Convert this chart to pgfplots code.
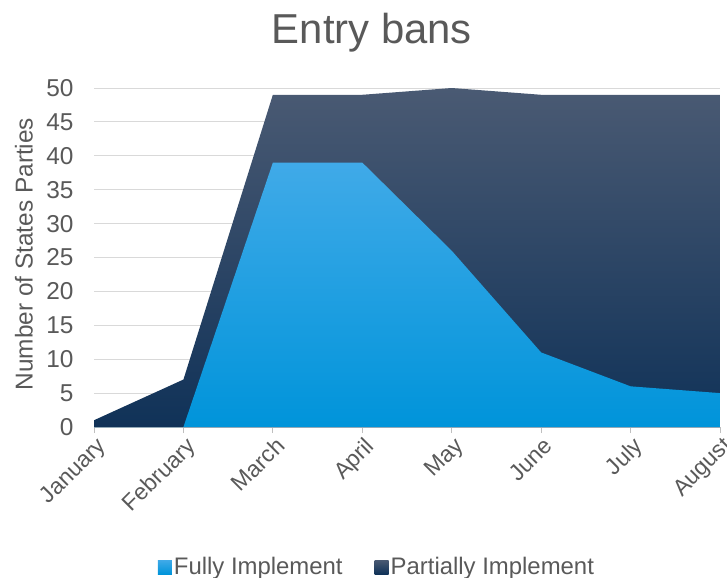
\documentclass[border=0pt]{standalone}
\usepackage{pgfplots}
\pgfplotsset{compat=1.18}
\usepackage{fontspec}
\setmainfont{Liberation Sans}
\definecolor{txt}{HTML}{595959}
\definecolor{gridc}{HTML}{D9D9D9}
\definecolor{axl}{HTML}{BFBFBF}
\definecolor{lighttop}{RGB}{64,170,232}
\definecolor{lightbot}{RGB}{0,148,218}
\definecolor{darktop}{RGB}{74,90,115}
\definecolor{darkbot}{RGB}{16,50,88}
\begin{document}
\begin{tikzpicture}[x=1bp,y=1bp]
\begin{axis}[
  at={(94bp,-427bp)}, anchor=south west,
  scale only axis, width=626bp, height=339bp,
  xmin=0, xmax=7, ymin=0, ymax=50,
  xtick={0,...,7},
  xticklabels={January,February,March,April,May,June,July,August},
  ytick={0,5,...,50},
  ymajorgrids, grid style={gridc, line width=1bp},
  axis lines*=left,
  y axis line style={draw=none},
  x axis line style={axl, line width=1.2bp},
  xtick style={axl, line width=1bp},
  ytick style={draw=none},
  major tick length=6bp, tick align=outside,
  /pgf/number format/assume math mode=true,
  x tick label style={rotate=45, anchor=north east, font=\fontsize{23}{23}\selectfont, text=txt, inner sep=1bp, yshift=-2bp},
  y tick label style={font=\fontsize{24.5}{24.5}\selectfont, text=txt, xshift=-11bp},
  ylabel={Number of States Parties},
  ylabel style={at={(axis description cs:-0.112,0.51)}, anchor=center, font=\fontsize{24.5}{24.5}\selectfont, text=txt},
  title={Entry bans},
  title style={at={(axis description cs:0.444,1.145)}, anchor=center, font=\fontsize{42}{42}\selectfont, text=txt},
  legend style={at={(axis description cs:0.452,-0.413)}, anchor=center, draw=none, fill=none,
    font=\fontsize{24}{24}\selectfont, text=txt, legend columns=2,
    /tikz/every even column/.append style={column sep=30bp}},
  legend image code/.code={\path[#1,draw=none] (0bp,-7bp) rectangle (14bp,7bp);},
]
\addplot[draw=none, shading=axis, top color=darktop, bottom color=darkbot, forget plot]
  coordinates {(0,1) (1,7) (2,49) (3,49) (4,50) (5,49) (6,49) (7,49)} \closedcycle;
\addplot[draw=none, shading=axis, top color=lighttop, bottom color=lightbot, forget plot]
  coordinates {(0,0) (1,0) (2,39) (3,39) (4,26) (5,11) (6,6) (7,5)} \closedcycle;
\addlegendimage{top color=lighttop, bottom color=lightbot}
\addlegendentry{Fully Implement}
\addlegendimage{top color=darktop, bottom color=darkbot}
\addlegendentry{Partially Implement}
\end{axis}
\pgfresetboundingbox
\path (0,0) rectangle (727,-578);
\end{tikzpicture}
\end{document}
